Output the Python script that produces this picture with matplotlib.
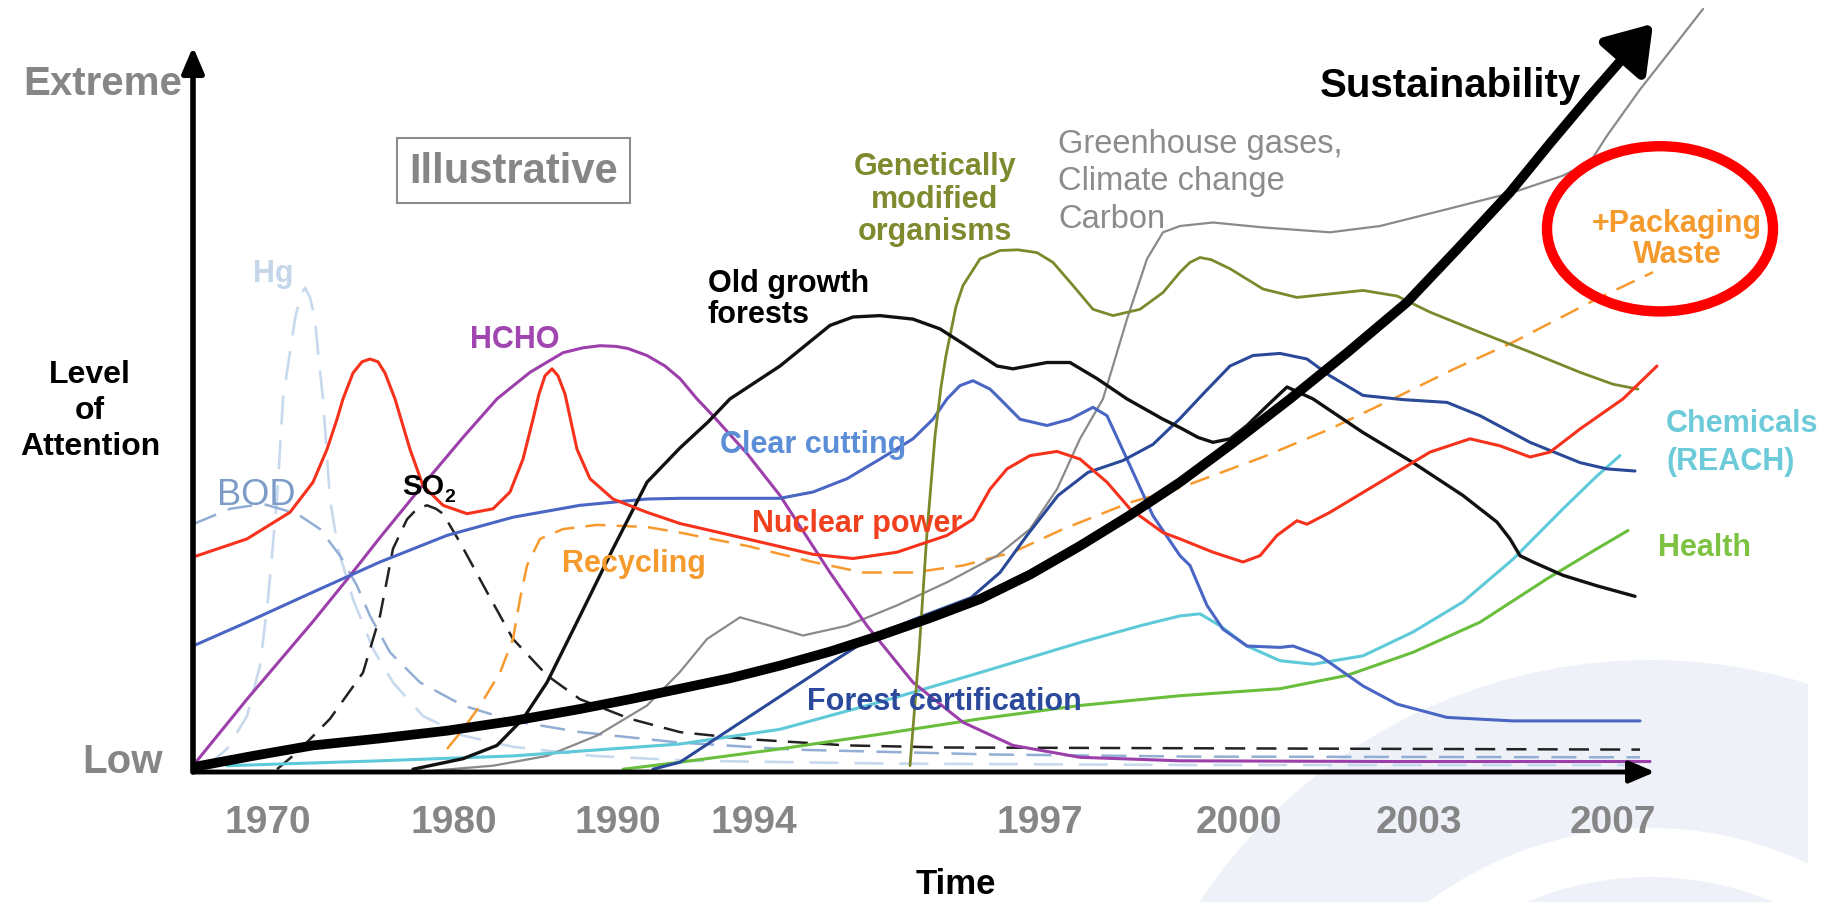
import matplotlib
matplotlib.use('Agg')
import matplotlib.pyplot as plt
from matplotlib.patches import Ellipse, Rectangle

plt.rcParams['font.family'] = ['Liberation Sans', 'DejaVu Sans']

# x: time position (arbitrary units), y: level of attention (0 = Low, ~97 = Extreme)
year_labels = ['1970', '1980', '1990', '1994', '1997', '2000', '2003', '2007']
year_pos = [7.5, 26.1, 42.5, 56.1, 84.7, 104.6, 122.6, 142.0]

sus_x = [0, 6, 12, 18.7, 25.4, 32, 38.7, 43.7, 48.7, 53.7, 58.7, 63.7, 68.7, 73.7, 78.7,
         83.7, 88.7, 93.7, 98.7, 104, 109.7, 115.5, 121.4, 126.5, 131.7, 135.7, 139.7, 146.0]
sus_y = [0.7, 2.3, 3.8, 4.8, 5.9, 7.3, 9.0, 10.4, 11.9, 13.4, 15.2, 17.2, 19.5, 22.0, 24.7,
         28.2, 32.3, 36.7, 41.4, 47.0, 53.3, 60.0, 67.1, 74.8, 82.8, 89.8, 96.6, 106.9]

hg_x = [1.4, 3.4, 5.4, 6.7, 7.5, 8.4, 9.0, 9.7, 10.2, 10.7, 11.2, 11.7, 12.2, 12.5, 13.0,
        13.7, 14.5, 16.0, 18.0, 20.0, 23.0, 27.0, 32.0, 40.0, 50.0, 70.0, 100.0, 144.7]
hg_y = [0.9, 3.3, 8.0, 15.2, 24.7, 39.0, 53.3, 60.0, 64.7, 67.8, 69.2, 67.8, 64.7, 60.0, 53.3,
        39.0, 31.9, 24.7, 17.6, 12.8, 8.0, 5.2, 3.6, 2.3, 1.6, 1.2, 1.0, 1.0]

bod_x = [0, 3.7, 7.0, 10.4, 12.7, 14.7, 16.4, 17.7, 19.7, 22.7, 27.0, 32.0, 38.7, 48.7,
         60.0, 80.0, 100.0, 144.7]
bod_y = [35.4, 37.6, 38.3, 36.9, 34.7, 30.9, 26.6, 22.3, 17.1, 12.8, 9.5, 7.3, 5.7, 4.2,
         3.2, 2.5, 2.2, 2.1]

nuc_x = [0, 5.4, 9.7, 12.0, 13.4, 14.4, 15.0, 16.0, 16.9, 17.7, 18.5, 19.2, 20.2, 21.7, 23.0,
         25.0, 27.4, 30.0, 31.7, 33.0, 34.0, 34.6, 35.2, 35.9, 36.5, 37.2, 38.4, 39.7, 42.0,
         45.4, 48.7, 55.4, 62.0, 66.0, 70.4, 75.4, 78.0, 79.7, 81.4, 83.7, 86.4, 88.7, 91.4,
         93.7, 97.0, 98.7, 102.0, 105.0, 106.7, 108.4, 110.4, 111.4, 113.7, 118.7, 123.7,
         127.7, 130.7, 133.7, 135.7, 138.7, 143.0, 146.4]
nuc_y = [30.7, 33.3, 37.1, 41.4, 46.1, 50.4, 53.3, 57.0, 58.6, 59.0, 58.6, 57.0, 53.3, 46.1,
         40.9, 38.1, 36.9, 37.6, 40.0, 44.7, 50.4, 54.0, 56.6, 57.6, 56.6, 54.0, 46.1, 41.9,
         39.0, 37.1, 35.5, 33.3, 31.1, 30.5, 31.4, 33.8, 36.1, 40.4, 43.3, 45.2, 45.8, 44.7,
         41.4, 37.6, 34.2, 33.3, 31.4, 30.0, 30.9, 33.8, 35.9, 35.4, 37.1, 41.4, 45.7, 47.6,
         46.6, 45.0, 45.7, 49.0, 53.3, 58.0]

hcho_x = [0, 5.4, 12.0, 15.4, 18.7, 22.7, 27.0, 30.4, 33.7, 37.0, 39.0, 40.7, 42.3, 43.5,
          45.4, 47.2, 48.7, 50.4, 52.0, 55.4, 58.7, 63.7, 67.4, 72.0, 77.0, 82.0, 88.7, 98.7,
          120.0, 145.7]
hcho_y = [0.9, 10.4, 21.5, 27.5, 33.5, 40.5, 47.8, 53.3, 57.1, 59.9, 60.6, 60.9, 60.8, 60.5,
          59.5, 58.0, 56.2, 53.3, 50.9, 45.5, 39.5, 28.5, 20.9, 12.8, 7.1, 3.8, 2.1, 1.6,
          1.5, 1.5]

so2_x = [8.4, 10.4, 13.7, 17.0, 18.7, 20.0, 21.4, 22.4, 23.4, 24.3, 25.0, 26.7, 29.4, 32.0,
         35.4, 38.7, 43.7, 48.7, 55.4, 65.4, 75.4, 98.7, 144.7]
so2_y = [0.4, 2.8, 7.6, 14.2, 22.3, 31.9, 36.1, 37.6, 38.1, 37.6, 36.9, 32.8, 25.7, 19.0,
         13.8, 10.4, 7.6, 5.7, 4.7, 3.8, 3.5, 3.4, 3.2]

cc_x = [0, 5.4, 12.0, 18.7, 25.4, 32.0, 38.7, 45.4, 48.7, 58.7, 62.0, 65.4, 68.7, 72.0, 74.0,
        75.4, 76.7, 78.0, 79.7, 80.7, 82.7, 85.4, 87.7, 90.0, 91.4, 93.4, 96.0, 98.7, 99.7,
        101.4, 103.0, 105.4, 108.7, 110.0, 112.7, 117.0, 120.4, 125.4, 132.0, 144.7]
cc_y = [18.0, 21.4, 25.7, 30.0, 33.8, 36.4, 38.1, 39.0, 39.1, 39.1, 40.0, 41.9, 44.7, 47.6,
        50.4, 53.3, 55.2, 55.9, 54.7, 53.3, 50.4, 49.5, 50.4, 52.1, 50.9, 44.7, 36.6, 30.9,
        29.5, 23.8, 20.4, 18.0, 17.8, 18.0, 16.6, 12.3, 9.7, 7.8, 7.3, 7.3]

fc_x = [46.0, 48.7, 53.7, 58.7, 63.7, 68.0, 73.0, 77.8, 80.7, 83.5, 86.5, 89.5, 93.0, 96.0,
        98.7, 101.0, 103.7, 106.0, 108.7, 111.4, 113.7, 117.0, 121.0, 125.4, 128.7, 133.7,
        138.7, 141.4, 144.2]
fc_y = [0.4, 1.4, 6.1, 10.8, 15.5, 19.4, 22.3, 24.9, 28.5, 34.0, 39.5, 42.8, 44.5, 46.8,
        50.5, 54.0, 58.0, 59.5, 59.8, 59.0, 56.6, 53.8, 53.2, 52.8, 50.9, 47.1, 44.2, 43.3, 43.0]

og_x = [22.0, 27.0, 30.4, 33.0, 35.4, 38.7, 42.0, 45.4, 48.7, 51.5, 53.7, 58.7, 63.7, 66.0,
        68.7, 72.0, 74.7, 77.0, 80.4, 82.0, 85.4, 87.7, 90.4, 93.4, 97.0, 98.7, 100.5, 102.0,
        103.7, 105.4, 107.4, 109.4, 112.0, 117.0, 122.0, 127.0, 130.4, 131.7, 132.7, 134.0,
        137.0, 140.4, 144.2]
og_y = [0.4, 1.9, 3.8, 7.6, 12.8, 22.3, 31.9, 41.4, 46.3, 50.0, 53.3, 58.0, 63.8, 65.0,
        65.2, 64.7, 63.3, 61.2, 58.0, 57.6, 58.5, 58.5, 56.2, 53.3, 50.4, 49.2, 47.8, 47.1,
        47.6, 49.5, 52.3, 55.0, 53.3, 48.5, 44.2, 39.5, 35.7, 33.3, 30.9, 30.0, 28.1, 26.6, 25.1]

gmo_x = [71.7, 72.6, 73.4, 74.2, 74.8, 75.3, 75.7, 76.3, 77.0, 78.7, 80.7, 82.5, 84.4, 86.0,
         88.0, 90.0, 92.0, 94.7, 97.0, 98.7, 99.7, 100.7, 101.8, 103.7, 107.0, 110.4, 113.7,
         117.0, 120.4, 123.7, 128.7, 133.7, 138.7, 142.0, 144.5]
gmo_y = [0.9, 17.0, 34.2, 48.0, 55.0, 59.5, 62.3, 66.5, 69.5, 73.3, 74.5, 74.6, 74.2, 72.8,
         69.5, 66.1, 65.2, 66.1, 68.5, 71.4, 72.8, 73.5, 73.2, 71.9, 69.0, 67.8, 68.3, 68.8,
         68.0, 65.7, 62.8, 60.0, 57.1, 55.4, 54.7]

ghg_x = [24.0, 30.0, 35.4, 40.4, 45.4, 48.7, 51.4, 54.7, 57.7, 61.0, 65.4, 70.4, 75.4, 80.4,
         83.7, 86.4, 88.7, 91.0, 93.4, 95.4, 97.0, 98.7, 102.0, 107.0, 113.7, 118.7, 125.4,
         132.0, 137.0, 139.7, 141.4, 144.7, 148.0, 151.0]
ghg_y = [0.2, 0.9, 2.3, 5.2, 9.5, 14.3, 19.0, 22.1, 20.9, 19.5, 20.9, 23.8, 27.1, 30.9, 34.7,
         40.4, 47.6, 53.3, 64.7, 73.3, 77.1, 78.0, 78.5, 77.8, 77.1, 78.0, 80.4, 82.8, 85.2,
         87.1, 90.9, 97.5, 103.5, 109.0]

rec_x = [25.4, 27.0, 28.7, 30.7, 32.0, 32.7, 33.4, 34.7, 37.0, 40.4, 45.4, 48.7, 55.4, 62.0,
         67.0, 72.0, 77.0, 82.0, 87.0, 93.7, 98.7, 107.0, 113.7, 120.0, 126.0, 132.0, 140.4, 146.0]
rec_y = [3.3, 6.1, 9.5, 14.2, 19.0, 24.7, 29.5, 33.3, 34.7, 35.3, 35.0, 34.2, 32.3, 30.0,
         28.5, 28.5, 29.5, 31.4, 34.7, 38.5, 40.6, 45.0, 49.0, 53.3, 57.5, 61.4, 67.6, 71.4]

chem_x = [3.4, 18.7, 32.0, 48.7, 58.7, 68.7, 78.7, 88.7, 95.0, 98.7, 100.7, 102.7, 105.4,
          108.7, 112.0, 117.0, 122.0, 127.0, 132.0, 137.0, 140.4, 142.7]
chem_y = [0.9, 1.6, 2.3, 4.0, 6.1, 10.0, 14.2, 18.5, 21.0, 22.3, 22.6, 20.9, 18.0, 15.9,
          15.4, 16.6, 20.0, 24.3, 30.4, 37.6, 42.3, 45.2]

health_x = [43.0, 48.7, 58.7, 68.7, 78.7, 88.7, 98.7, 108.7, 115.4, 122.0, 128.7, 135.4,
            140.4, 143.5]
health_y = [0.4, 1.4, 3.3, 5.4, 7.6, 9.5, 10.9, 11.9, 13.8, 17.1, 21.4, 27.6, 31.9, 34.5]

GREY = '#868686'
SWOOSH = '#eef2f8'

fig = plt.figure(figsize=(18.39, 9.03), dpi=100)
ax = fig.add_axes([0, 0, 1, 1])
ax.set_xlim(-19.3, 164.6)
ax.set_ylim(-18.57, 110.43)
ax.axis('off')

# faint logo swoosh in the background
ax.add_patch(Ellipse((145.7, -61), 108, 154, color=SWOOSH, lw=0, zorder=0))
ax.add_patch(Ellipse((145.7, -61), 74, 106, color='white', lw=0, zorder=0))
ax.add_patch(Ellipse((145.7, -61), 64, 92, color=SWOOSH, lw=0, zorder=0))
ax.add_patch(Rectangle((161.5, -20), 10, 45, color='white', lw=0, zorder=0.1))


def curve(x, y, color, lw=2.2, dashes=None, z=3):
    line, = ax.plot(x, y, color=color, lw=lw, zorder=z,
                    solid_joinstyle='round', solid_capstyle='round')
    if dashes:
        line.set_dashes(dashes)


curve(hg_x, hg_y, '#c9d9ed', lw=1.9, dashes=(11, 6), z=2)
curve(bod_x, bod_y, '#93aed4', lw=1.8, dashes=(10, 5), z=2)
curve(so2_x, so2_y, '#222222', lw=1.8, dashes=(8, 4.5), z=3)
curve(rec_x, rec_y, '#f79a2e', lw=1.8, dashes=(8, 4.5), z=3)
curve(ghg_x, ghg_y, '#8a8a8a', lw=1.6)
curve(chem_x, chem_y, '#5ec9d8', lw=2.2)
curve(health_x, health_y, '#69bf3c', lw=2.2)
curve(hcho_x, hcho_y, '#9c3fab', lw=2.2)
curve(cc_x, cc_y, '#4a66c4', lw=2.2)
curve(fc_x, fc_y, '#2a4998', lw=2.2)
curve(gmo_x, gmo_y, '#7d882c', lw=2.0)
curve(og_x, og_y, '#111111', lw=2.4)
curve(nuc_x, nuc_y, '#f7321c', lw=2.2)

# sustainability: thick black arrow
ax.plot(sus_x[:-1], sus_y[:-1], color='black', lw=7, zorder=5,
        solid_joinstyle='round', solid_capstyle='butt')
ax.annotate('', xy=(sus_x[-1], sus_y[-1]), xytext=(sus_x[-2], sus_y[-2]),
            arrowprops=dict(arrowstyle='-|>,head_length=0.45,head_width=0.3',
                            mutation_scale=60, color='black', lw=7,
                            shrinkA=0, shrinkB=0), zorder=5)

# axes arrows
ax.annotate('', xy=(0, 103.6), xytext=(0, 0),
            arrowprops=dict(arrowstyle='-|>,head_length=0.7,head_width=0.3',
                            mutation_scale=22, color='black', lw=4,
                            shrinkA=0, shrinkB=0), zorder=4)
ax.annotate('', xy=(146.2, 0), xytext=(0, 0),
            arrowprops=dict(arrowstyle='-|>,head_length=0.7,head_width=0.3',
                            mutation_scale=22, color='black', lw=3.5,
                            shrinkA=0, shrinkB=0), zorder=4)

# red highlight ring
ax.add_patch(Ellipse((146.7, 77.6), 22.6, 23.6, fill=False, edgecolor='#ff0000',
                     lw=7.5, zorder=6))


def label(x, y, lines, color, size=22, step=4.5, weight='bold', ha='left'):
    for i, s in enumerate(lines):
        ax.text(x, y - i * step, s, color=color, fontsize=size, fontweight=weight,
                ha=ha, va='baseline', zorder=7)


# axis texts
label(-1.1, 96.9, ['Extreme'], GREY, size=29, ha='right')
label(-3.0, 0.0, ['Low'], GREY, size=29, ha='right')
label(-10.3, 55.7, ['Level', 'of', 'Attention'], 'black', size=23, step=5.15, ha='center')
for pos, yr in zip(year_pos, year_labels):
    ax.text(pos, -8.6, yr, color=GREY, fontsize=28, fontweight='bold',
            ha='center', va='baseline')
label(76.3, -17.3, ['Time'], 'black', size=25, ha='center')
ax.text(32.05, 84.3, 'Illustrative', color=GREY, fontsize=30, fontweight='bold',
        ha='center', va='baseline', zorder=7,
        bbox=dict(boxstyle='square,pad=0.3', facecolor='white', edgecolor='#8c8c8c', lw=1.5))

# series labels
label(6.0, 70.1, ['Hg'], '#c5d5ea', size=22)
label(2.4, 38.3, ['BOD'], '#7c9bc7', size=26, weight='normal')
label(20.9, 39.7, ['SO'], 'black', size=21)
label(25.1, 38.7, ['2'], 'black', size=14)
label(27.7, 60.7, ['HCHO'], '#a145b0', size=22)
label(36.9, 28.7, ['Recycling'], '#f59a2c', size=22)
label(52.7, 45.7, ['Clear cutting'], '#5b8ed6', size=22)
label(55.9, 34.4, ['Nuclear power'], '#f0401e', size=22)
label(61.4, 9.0, ['Forest certification'], '#2b4a9b', size=22)
label(51.5, 68.7, ['Old growth', 'forests'], 'black', size=22, step=4.4)
label(74.2, 85.4, ['Genetically', 'modified', 'organisms'], '#7f8a2e', size=22,
      step=4.65, ha='center')
label(86.5, 88.6, ['Greenhouse gases,', 'Climate change', 'Carbon'], '#8c8c8c',
      size=23.5, step=5.35, weight='normal')
label(112.7, 96.6, ['Sustainability'], 'black', size=29)
label(148.4, 77.3, ['+Packaging', 'Waste'], '#f59a2c', size=22, step=4.4, ha='center')
label(147.3, 48.7, ['Chemicals', '(REACH)'], '#6dcbd9', size=22, step=5.4)
label(146.5, 31.0, ['Health'], '#7dc242', size=22)

fig.savefig('out.png', dpi=100)
